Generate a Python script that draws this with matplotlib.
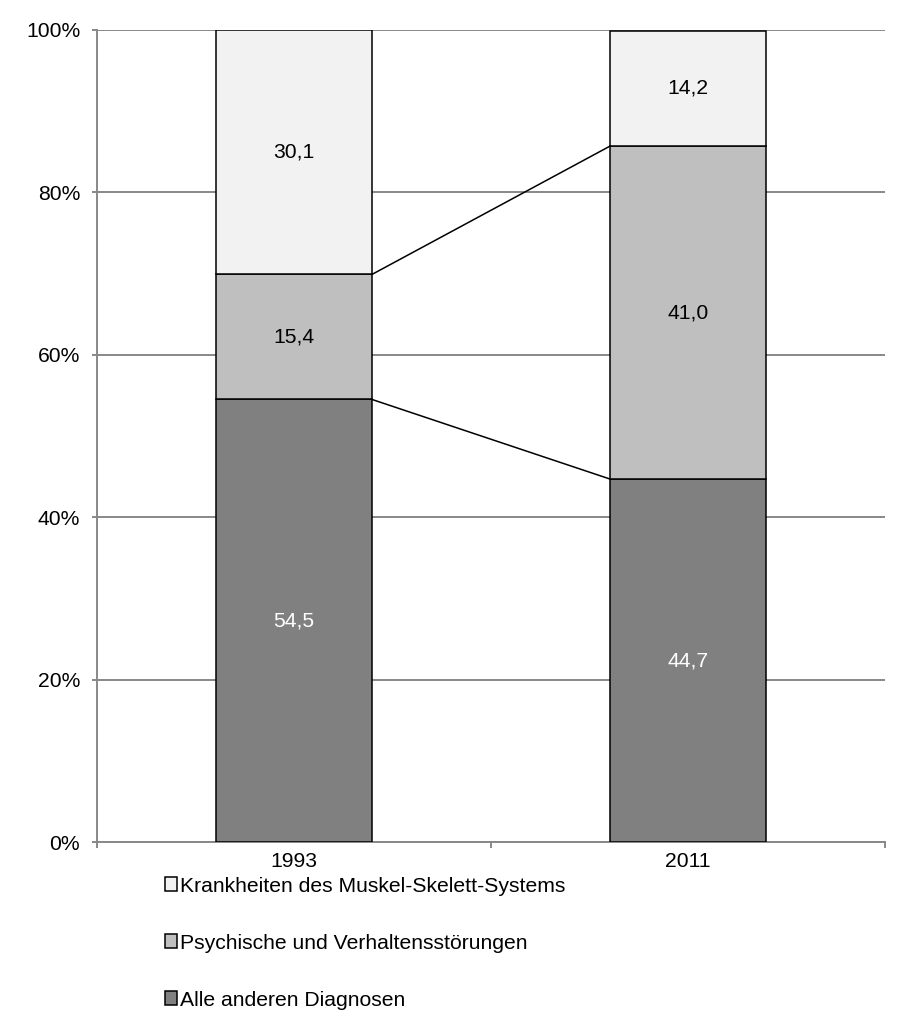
import numpy as np
import matplotlib
matplotlib.use("Agg")
import matplotlib.pyplot as plt

plt.rcParams["font.family"] = ["Liberation Sans", "DejaVu Sans"]

years = ["1993", "2011"]
series = ["Alle anderen Diagnosen",
          "Psychische und Verhaltensstörungen",
          "Krankheiten des Muskel-Skelett-Systems"]
alle_anderen = [54.5, 44.7]
psychische = [15.4, 41.0]
muskel_skelett = [30.1, 14.2]
colors = ["#808080", "#bfbfbf", "#f2f2f2"]
text_colors = ["white", "black", "black"]

grid_c = "#888888"
fs = 15.2

fig = plt.figure(figsize=(9.09, 10.25), dpi=100)
ax = fig.add_axes([97 / 909, 1 - 842 / 1025, (885 - 97) / 909, (842 - 30) / 1025])

x = np.array([0.5, 1.5])
width = 0.396
bottom = np.zeros(2)
tops = []
handles = []
for vals, col, tc, name in zip([alle_anderen, psychische, muskel_skelett], colors, text_colors, series):
    vals = np.array(vals)
    b = ax.bar(x, vals, width, bottom=bottom, color=col, edgecolor="black",
               linewidth=1.1, label=name, zorder=3)
    handles.append(b)
    for xi, v, bo in zip(x, vals, bottom):
        ax.text(xi, bo + v / 2, f"{v:.1f}".replace(".", ","), ha="center", va="center",
                color=tc, fontsize=fs, zorder=4)
    bottom = bottom + vals
    tops.append(bottom.copy())

# series lines between the two bars
for t in tops[:2]:
    ax.plot([x[0] + width / 2, x[1] - width / 2], [t[0], t[1]], color="black",
            linewidth=1.1, zorder=4)

ax.set_xlim(0, 2)
ax.set_ylim(0, 100)
ax.set_yticks(np.arange(0, 101, 20))
ax.set_yticklabels([f"{v}%" for v in range(0, 101, 20)], fontsize=fs)
ax.yaxis.grid(True, color=grid_c, linewidth=1.4, zorder=0)
ax.tick_params(axis="y", length=3.6, width=1.4, color=grid_c, pad=8.5)

ax.set_xticks([0, 1, 2])
ax.set_xticklabels([])
ax.tick_params(axis="x", which="major", length=4.3, width=1.4, color=grid_c)
ax.set_xticks(x, minor=True)
ax.set_xticklabels(years, minor=True, fontsize=fs)
ax.tick_params(axis="x", which="minor", length=0, pad=7)

for s in ["top", "right"]:
    ax.spines[s].set_visible(False)
for s in ["left", "bottom"]:
    ax.spines[s].set_color(grid_c)
    ax.spines[s].set_linewidth(1.4)

leg = fig.legend(handles[::-1], series[::-1], loc="upper left",
                 bbox_to_anchor=(154 / 909, 1 - 866 / 1025), frameon=False,
                 fontsize=fs, handlelength=0.6, handleheight=0.6,
                 handletextpad=0.12, labelspacing=1.8, borderpad=0)

fig.savefig("out.png", dpi=100)
